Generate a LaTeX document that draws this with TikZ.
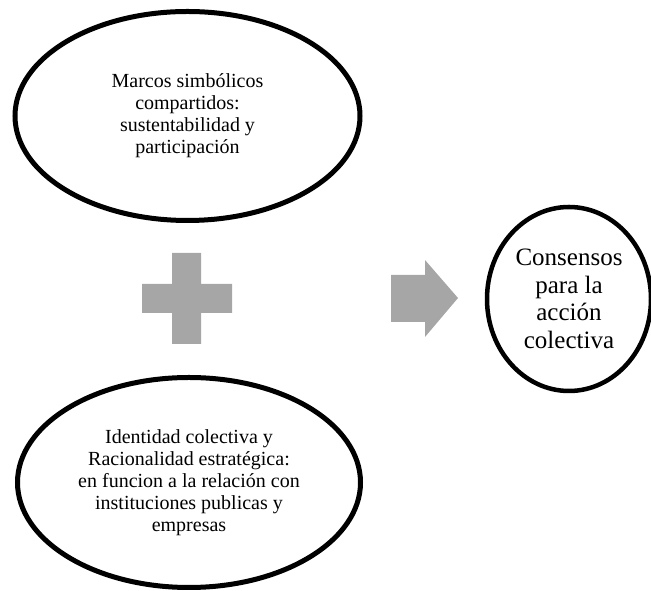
\documentclass[tikz,border=0pt]{standalone}
\usepackage{fontspec}
\setmainfont{Liberation Serif}
\usetikzlibrary{shapes.geometric}
\definecolor{shapegray}{HTML}{A6A6A6}
\tikzset{
    idea/.style={ellipse, draw=black, line width=5pt, inner sep=0pt, align=center,
        font=\fontsize{20}{22}\selectfont},
    result/.style={ellipse, draw=black, line width=4.5pt, inner sep=0pt, align=center,
        font=\fontsize{25}{27.5}\selectfont}
}
\begin{document}
\begin{tikzpicture}[x=1pt, y=1pt]
                \useasboundingbox (0, 0) rectangle (651, 591);

                \node[idea, minimum width=345, minimum height=209] (marcos) at (187.5, 475)
                    {Marcos simbólicos\\compartidos:\\sustentabilidad y\\participación};
                \node[idea, minimum width=343, minimum height=210] (identidad) at (189, 108.5)
                    {Identidad colectiva y\\Racionalidad estratégica:\\en funcion a la relación con\\instituciones publicas y\\empresas};
                \node[result, minimum width=164, minimum height=184] (consensos) at (569, 292)
                    {Consensos\\para la\\acción\\colectiva};

                \fill[shapegray] (172, 338) -- (201, 338) -- (201, 307) -- (232, 307)
                    -- (232, 278) -- (201, 278) -- (201, 247) -- (172, 247)
                    -- (172, 278) -- (142, 278) -- (142, 307) -- (172, 307) -- cycle;

                \fill[shapegray] (391, 316) -- (425, 316) -- (425, 331) -- (458, 293)
                    -- (425, 254) -- (425, 269) -- (391, 269) -- cycle;
            \end{tikzpicture}
\end{document}
